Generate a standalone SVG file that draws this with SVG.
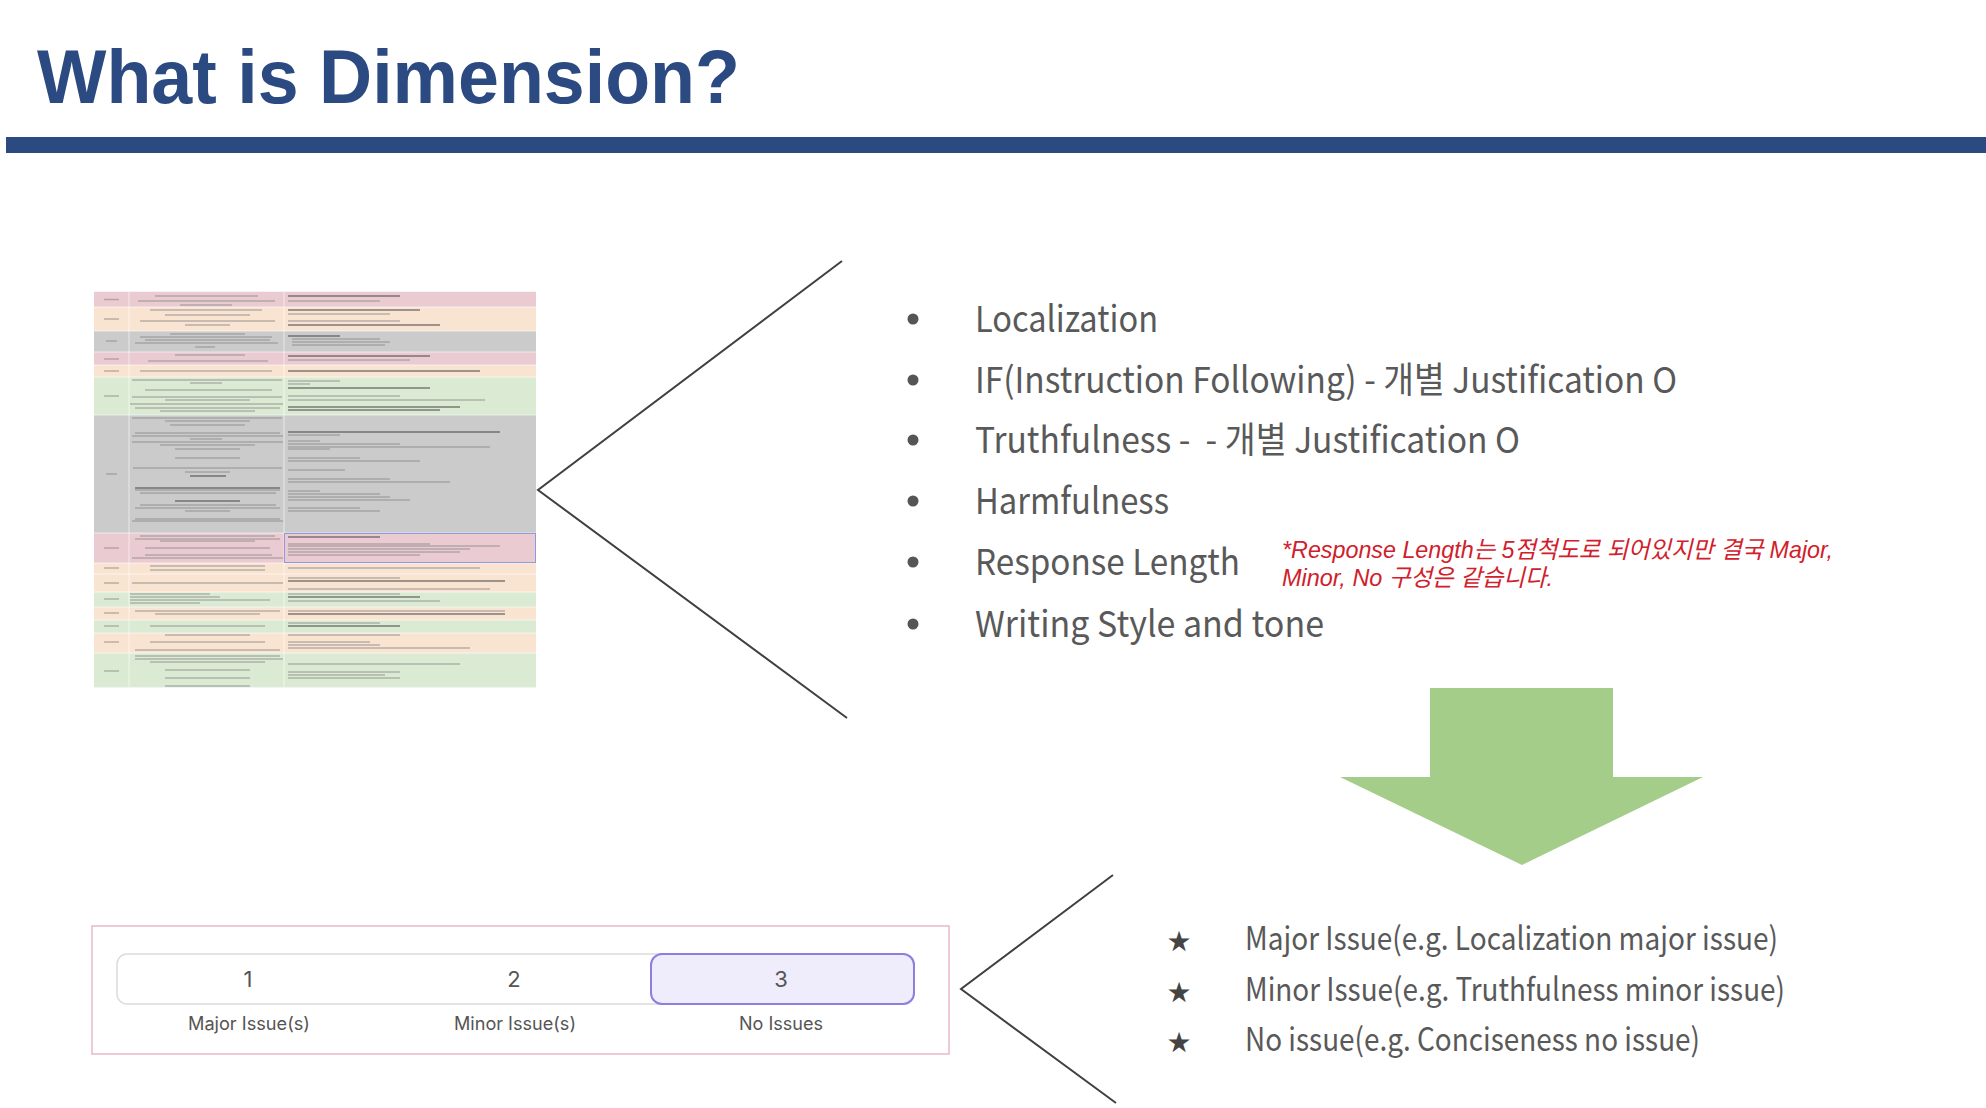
<svg xmlns="http://www.w3.org/2000/svg" width="1986" height="1108" viewBox="0 0 1986 1108">
<style>
.title{font-family:"Liberation Sans","Noto Sans",sans-serif;font-weight:bold;font-size:76px;fill:#2c4a82}
.item{font-family:"Noto Sans CJK KR","Noto Sans",sans-serif;font-size:36px;fill:#595959;white-space:pre}
.note{font-family:"Liberation Sans","Noto Sans CJK KR",sans-serif;font-size:24px;font-style:italic;fill:#d0202c}
.star{font-family:"Noto Sans CJK KR","Noto Sans",sans-serif;font-size:32px;fill:#595959}
.stg{font-family:"DejaVu Sans",sans-serif;font-size:28px;fill:#444}
.num{font-family:"Inter","Liberation Sans",sans-serif;font-size:22px;fill:#555;text-anchor:middle}
.lab{font-family:"Inter","Liberation Sans",sans-serif;font-size:18px;fill:#555;text-anchor:middle}
.conn{fill:none;stroke:#404040;stroke-width:2}
.tl{fill:none;stroke:#8c8c8c;stroke-width:1.3;opacity:.6}
.td{fill:none;stroke:#4a4a4a;stroke-width:1.5;opacity:.7}
.pk{fill:#ebcbd2}.pc{fill:#f9e4d2}.gy{fill:#cbcbcb}.gn{fill:#dbebd3}
</style>

<rect width="1986" height="1108" fill="#ffffff"/>

<g id="title">
<text class="title" x="37" y="103" textLength="703" lengthAdjust="spacingAndGlyphs">What is Dimension?</text>
</g>
<g id="header-bar">
<rect x="6" y="137" width="1980" height="16" fill="#2c4a82"/>
</g>

<g id="thumbnail">
<rect x="94" y="291" width="442" height="397" fill="#f4f4f4"/>
<rect class="pk" x="94" y="292" width="442" height="15"/>
<rect class="pc" x="94" y="307" width="442" height="24"/>
<rect class="gy" x="94" y="331" width="442" height="21"/>
<rect class="pk" x="94" y="352" width="442" height="13"/>
<rect class="pc" x="94" y="365" width="442" height="12"/>
<rect class="gn" x="94" y="377" width="442" height="38"/>
<rect class="gy" x="94" y="415" width="442" height="118"/>
<rect class="pk" x="94" y="533" width="442" height="30"/>
<rect class="pc" x="94" y="563" width="442" height="11"/>
<rect class="pc" x="94" y="574" width="442" height="18"/>
<rect class="gn" x="94" y="592" width="442" height="15"/>
<rect class="pc" x="94" y="607" width="442" height="13"/>
<rect class="gn" x="94" y="620" width="442" height="13"/>
<rect class="pc" x="94" y="633" width="442" height="20"/>
<rect class="gn" x="94" y="653" width="442" height="34"/>
<path d="M129 292V687M284 292V687M94 307H536M94 331H536M94 352H536M94 365H536M94 377H536M94 415H536M94 533H536M94 563H536M94 574H536M94 592H536M94 607H536M94 620H536M94 633H536M94 653H536" fill="none" stroke="#ffffff" stroke-width="1" opacity=".6"/>
<rect x="284.5" y="533.5" width="251" height="29" fill="none" stroke="#8e9be0" stroke-width="1"/>
<path class="tl" d="M104 299.5H119M155 296H258M138 301H275M180 305H232M288 301H380
M104 319H119M150 310H262M165 315H250M140 321H275M185 325H230M288 314H390M288 321H400
M106 341H117M170 334H245M140 337H272M145 340H270M135 343H278M195 347H215M292 339H380M292 342H390M292 345H385
M104 359H119M175 355H245M148 361H268M288 360H410
M104 371H119M140 371H272
M104 396H119M132 380H282M190 383H222M145 390H272M132 397H282M165 400H250M130 404H283M135 408H280M160 411H255M288 381H340M288 384H310M288 396H400M288 400H485
M106 474H117M132 418H282M165 421H250M170 425H245M135 433H280M132 436H283M190 439H222M132 442H283M160 445H255M175 449H240M175 458H240M133 468H282M185 472H230M135 490H280M140 493H276M140 505H276M135 508H280M185 511H230M135 519H280M132 521H283M288 435H340M288 441H320M288 444H400M288 447H490M288 449H330M288 458H360M288 461H420M288 470H345M288 479H390M288 482H450M288 491H320M288 494H380M288 497H390M288 500H410M288 508H360M288 511H380
M104 548H119M140 536H275M135 539H280M160 541H255M145 548H270M145 555H272M132 558H283M288 544H430M288 546H500M288 549H470M288 552H460M288 555H420
M104 568H119M150 566H265M150 570H265M288 568H480
M104 583H119M132 583H283M288 578H400M288 589H490
M104 599H119M130 594H210M130 597H220M130 600H270M130 603H200M288 594H400M288 601H440
M104 613H119M135 611H280M155 614H260M288 611H505
M104 626H119M150 626H265M288 623H380
M104 642H119M165 635H250M150 642H265M135 650H280M288 635H400M288 642H370M288 645H380M288 648H470
M104 671H119M135 656H280M135 659H283M150 662H265M165 670H250M165 678H250M165 686H250M288 664H460M288 672H400M288 675H385M288 678H400"/>
<path class="td" d="M288 296H400M288 310H420M288 325H440M288 336H340M288 356H430M288 371H480M288 388H430M288 407H460M288 410H440M288 432H500M190 476H226M135 488H280M175 501H240M288 537H380M288 581H505M288 597H420M288 614H505M288 626H400"/>
</g>

<g id="connectors">
<polyline class="conn" points="842,261 538,490 847,718"/>
<polyline class="conn" points="1113,875 961,989 1116,1103"/>
</g>

<g id="dimension-list">
<g fill="#555"><circle cx="913" cy="319" r="5.5"/><circle cx="913" cy="380" r="5.5"/><circle cx="913" cy="440" r="5.5"/><circle cx="913" cy="501" r="5.5"/><circle cx="913" cy="562" r="5.5"/><circle cx="913" cy="624" r="5.5"/></g>
<text class="item" x="975" y="332" textLength="183" lengthAdjust="spacingAndGlyphs">Localization</text>
<text class="item" x="975" y="393" textLength="702" lengthAdjust="spacingAndGlyphs">IF(Instruction Following) - 개별 Justification O</text>
<text class="item" x="975" y="453" textLength="545" lengthAdjust="spacingAndGlyphs">Truthfulness -  - 개별 Justification O</text>
<text class="item" x="975" y="514" textLength="194" lengthAdjust="spacingAndGlyphs">Harmfulness</text>
<text class="item" x="975" y="575" textLength="265" lengthAdjust="spacingAndGlyphs">Response Length</text>
<text class="item" x="975" y="637" textLength="349" lengthAdjust="spacingAndGlyphs">Writing Style and tone</text>
</g>

<g id="note">
<text class="note" x="1282" y="558" textLength="551" lengthAdjust="spacingAndGlyphs">*Response Length는 5점척도로 되어있지만 결국 Major,</text>
<text class="note" x="1282" y="586" textLength="271" lengthAdjust="spacingAndGlyphs">Minor, No 구성은 같습니다.</text>
</g>

<g id="arrow">
<polygon points="1430,688 1613,688 1613,777 1703,777 1522,865 1340,777 1430,777" fill="#a3cd88"/>
</g>

<g id="scale-widget">
<rect x="92" y="926" width="857" height="128" fill="#ffffff" stroke="#e9b9c3" stroke-width="1.5"/>
<rect x="117" y="954" width="797" height="50" rx="10" fill="#ffffff" stroke="#dcdcdc" stroke-width="1.5"/>
<rect x="651" y="954" width="263" height="50" rx="11" fill="#efedfc" stroke="#8b80e0" stroke-width="2"/>
<text class="num" x="248" y="987">1</text>
<text class="num" x="514" y="987">2</text>
<text class="num" x="781" y="987">3</text>
<text class="lab" x="249" y="1030" textLength="122" lengthAdjust="spacingAndGlyphs">Major Issue(s)</text>
<text class="lab" x="515" y="1030" textLength="122" lengthAdjust="spacingAndGlyphs">Minor Issue(s)</text>
<text class="lab" x="781" y="1030" textLength="84" lengthAdjust="spacingAndGlyphs">No Issues</text>
</g>

<g id="issue-list">
<text class="stg" x="1179" y="951" text-anchor="middle">★</text>
<text class="stg" x="1179" y="1002" text-anchor="middle">★</text>
<text class="stg" x="1179" y="1052" text-anchor="middle">★</text>
<text class="star" x="1245" y="950" textLength="533" lengthAdjust="spacingAndGlyphs">Major Issue(e.g. Localization major issue)</text>
<text class="star" x="1245" y="1001" textLength="540" lengthAdjust="spacingAndGlyphs">Minor Issue(e.g. Truthfulness minor issue)</text>
<text class="star" x="1245" y="1051" textLength="455" lengthAdjust="spacingAndGlyphs">No issue(e.g. Conciseness no issue)</text>
</g>
</svg>
